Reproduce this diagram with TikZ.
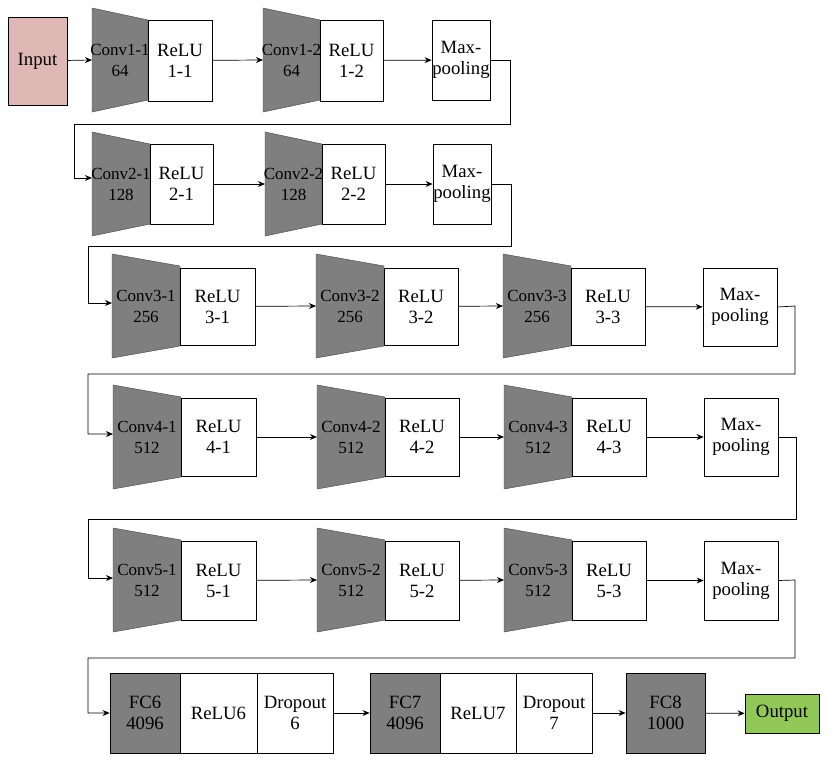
\documentclass[tikz,border=0pt]{standalone}
\usepackage{fontspec}
\setmainfont{Liberation Serif}
\usetikzlibrary{arrows.meta}
\definecolor{cgray}{HTML}{7F7F7F}
\definecolor{cin}{HTML}{DFB8B6}
\definecolor{cout}{HTML}{92C857}
\tikzset{
  box/.style={draw=black, line width=0.6pt, inner sep=0pt, align=center, font=\fontsize{16}{18}\selectfont},
  conv/.style={fill=cgray, draw=cgray!60!black, line width=0.4pt},
  arr/.style={-{Stealth[length=6pt,width=5pt]}, line width=0.6pt},
}
% \bx{name}{x1}{x2}{y1}{y2}{fill}{text}
\newcommand{\bx}[7]{\node[box,fill=#6,minimum width={(#3-#2)*0.03cm},minimum height={(#5-#4)*0.03cm}] (#1) at ({(#2+#3)/2},{(#4+#5)/2}) {#7};}
% \cvb{name}{lx}{rx}{cy}{text}
\newcommand{\cvb}[5]{\fill[conv] (#2,#4-52) -- (#3,#4-40) -- (#3,#4+40) -- (#2,#4+52) -- cycle;
  \coordinate (#1-in) at (#2,#4);
  \node[box,draw=none,font=\fontsize{14.5}{18}\selectfont] (#1) at ({(#2+#3)/2},#4) {#5};}
\begin{document}
\begin{tikzpicture}[x=0.03cm,y=-0.03cm]
\useasboundingbox (0,0) rectangle (840,774);
\fill[white] (0,0) rectangle (840,774);
% row 1
\bx{in}{8}{67}{17}{105}{cin}{Input}
\cvb{c11}{92}{148}{60}{Conv1-1\\64}
\bx{r11}{148}{212}{20}{101}{white}{ReLU\\1-1}
\cvb{c12}{263}{320}{60}{Conv1-2\\64}
\bx{r12}{320}{383}{20}{101}{white}{ReLU\\1-2}
\bx{m1}{432}{490}{20}{100}{white}{Max-\\pooling}
\draw[arr] (in) -- (c11-in);
\draw[arr] (r11) -- (c12-in);
\draw[arr] (r12) -- (m1);
% row 2
\cvb{c21}{92}{150}{184}{Conv2-1\\128}
\bx{r21}{150}{213}{144}{224}{white}{ReLU\\2-1}
\cvb{c22}{265}{322}{184}{Conv2-2\\128}
\bx{r22}{322}{385}{144}{224}{white}{ReLU\\2-2}
\bx{m2}{433}{491}{144}{224}{white}{Max-\\pooling}
\draw[arr] (m1.east) -- (510,60) -- (510,124) -- (74,124) -- (74,178) -- (c21-in |- 0,178);
\draw[arr] (r21) -- (c22-in);
\draw[arr] (r22) -- (m2);
% row 3
\cvb{c31}{112}{180}{306}{Conv3-1\\256}
\bx{r31}{180}{255}{268}{345}{white}{ReLU\\3-1}
\cvb{c32}{316}{384}{306}{Conv3-2\\256}
\bx{r32}{384}{458}{268}{345}{white}{ReLU\\3-2}
\cvb{c33}{503}{571}{306}{Conv3-3\\256}
\bx{r33}{571}{645}{268}{345}{white}{ReLU\\3-3}
\bx{m3}{703}{777}{268}{346}{white}{Max-\\pooling}
\draw[arr] (m2.east) -- (511,184) -- (511,246) -- (88,246) -- (88,303) -- (c31-in |- 0,303);
\draw[arr] (r31) -- (c32-in);
\draw[arr] (r32) -- (c33-in);
\draw[arr] (r33) -- (m3);
% row 4
\cvb{c41}{113}{181}{437}{Conv4-1\\512}
\bx{r41}{181}{256}{398}{476}{white}{ReLU\\4-1}
\cvb{c42}{317}{385}{437}{Conv4-2\\512}
\bx{r42}{385}{459}{398}{476}{white}{ReLU\\4-2}
\cvb{c43}{504}{572}{437}{Conv4-3\\512}
\bx{r43}{572}{646}{398}{476}{white}{ReLU\\4-3}
\bx{m4}{704}{778}{398}{476}{white}{Max-\\pooling}
\draw[arr] (m3.east) -- (795,306) -- (795,374) -- (88,374) -- (88,434) -- (c41-in |- 0,434);
\draw[arr] (r41) -- (c42-in);
\draw[arr] (r42) -- (c43-in);
\draw[arr] (r43) -- (m4);
% row 5
\cvb{c51}{113}{181}{580}{Conv5-1\\512}
\bx{r51}{181}{256}{541}{620}{white}{ReLU\\5-1}
\cvb{c52}{317}{385}{580}{Conv5-2\\512}
\bx{r52}{385}{459}{541}{620}{white}{ReLU\\5-2}
\cvb{c53}{504}{572}{580}{Conv5-3\\512}
\bx{r53}{572}{646}{541}{620}{white}{ReLU\\5-3}
\bx{m5}{704}{778}{541}{620}{white}{Max-\\pooling}
\draw[arr] (m4.east) -- (796,437) -- (796,519) -- (88,519) -- (88,578) -- (c51-in |- 0,578);
\draw[arr] (r51) -- (c52-in);
\draw[arr] (r52) -- (c53-in);
\draw[arr] (r53) -- (m5);
% row 6
\bx{f6}{110}{180}{673}{753}{cgray}{FC6\\4096}
\bx{r6}{180}{257}{673}{753}{white}{ReLU6}
\bx{d6}{257}{333}{673}{753}{white}{Dropout\\6}
\bx{f7}{370}{440}{673}{753}{cgray}{FC7\\4096}
\bx{r7}{440}{516}{673}{753}{white}{ReLU7}
\bx{d7}{516}{592}{673}{753}{white}{Dropout\\7}
\bx{f8}{626}{705}{673}{753}{cgray}{FC8\\1000}
\bx{out}{745}{819}{694}{733}{cout}{Output}
\draw[arr] (m5.east) -- (795,580) -- (795,658) -- (88,658) -- (88,713) -- (f6.west |- 0,713);
\draw[arr] (d6) -- (f7);
\draw[arr] (d7) -- (f8);
\draw[arr] (f8) -- (out);
\end{tikzpicture}
\end{document}
